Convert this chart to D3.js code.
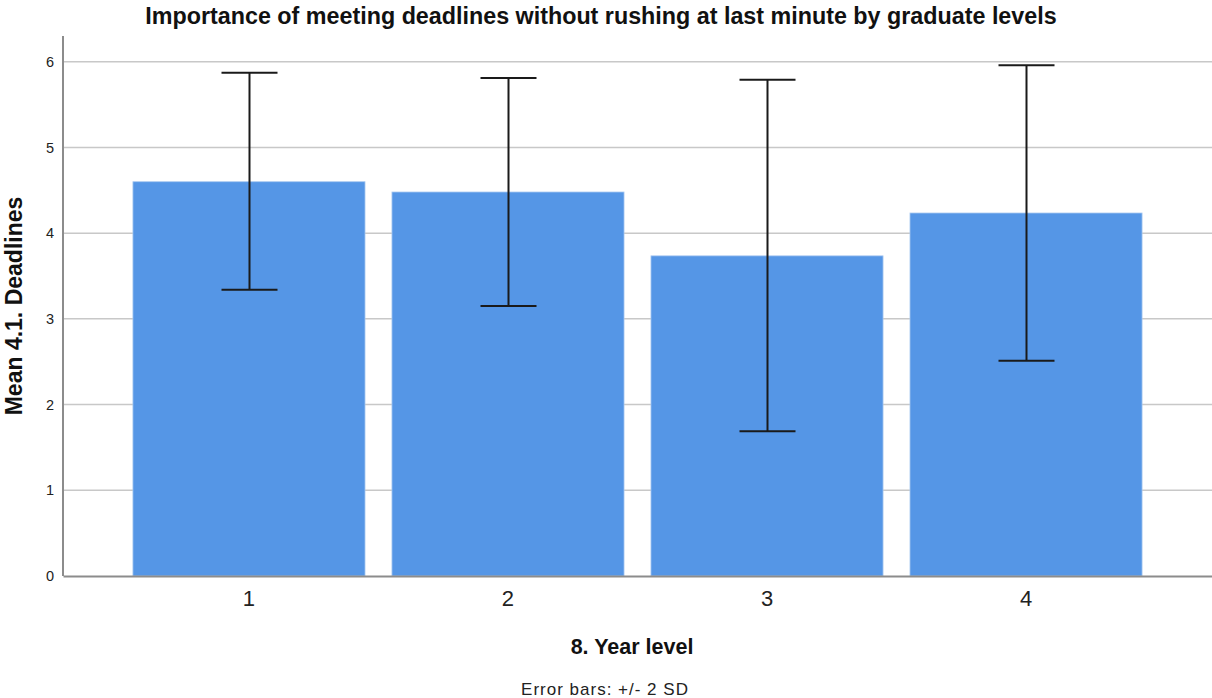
<!DOCTYPE html>
<html><head><meta charset="utf-8">
<script src="https://cdn.jsdelivr.net/npm/d3@7"></script>
<style>body{margin:0;background:#fff;font-family:"Liberation Sans",Arial,sans-serif}</style>
</head><body><svg id="c" width="1212" height="698"></svg>
<script>
const categories = ["1","2","3","4"];
const means = [4.60, 4.48, 3.735, 4.235];
const upper = [5.87, 5.81, 5.79, 5.96];
const lower = [3.34, 3.15, 1.69, 2.51];
const yTicks = [0,1,2,3,4,5,6];

const svg = d3.select("#c");
const pLeft = 63, pRight = 1212, pTop = 36, pBottom = 576;
const x = d3.scaleBand().domain(categories).range([pLeft, pRight]).paddingInner(0.104).paddingOuter(0.27);
const y = d3.scaleLinear().domain([0, 6.3]).range([pBottom, pTop]);

// gridlines
svg.append("g").selectAll("line").data(yTicks.filter(d=>d>0)).join("line")
  .attr("x1", pLeft).attr("x2", pRight).attr("y1", d=>y(d)).attr("y2", d=>y(d))
  .attr("stroke", "#c8c8c8").attr("stroke-width", 1.5);

// bars
svg.append("g").selectAll("rect").data(categories).join("rect")
  .attr("x", d=>x(d)).attr("width", x.bandwidth())
  .attr("y", (d,i)=>y(means[i])).attr("height", (d,i)=>pBottom - y(means[i]))
  .attr("fill", "#5596e6").attr("stroke", "#a9c9f0").attr("stroke-width", 0.8);

// error bars
const eg = svg.append("g").attr("stroke", "#1a1a1a").attr("stroke-width", 2);
categories.forEach((c,i)=>{
  const cx = Math.round(x(c) + x.bandwidth()/2) + 0.5;
  eg.append("line").attr("x1", cx).attr("x2", cx).attr("y1", y(upper[i])).attr("y2", y(lower[i]));
  [upper[i], lower[i]].forEach(v=>{
    eg.append("line").attr("x1", cx-28).attr("x2", cx+28).attr("y1", y(v)).attr("y2", y(v));
  });
});

// axes
const yAxis = svg.append("g").attr("transform", `translate(${pLeft},0)`)
  .call(d3.axisLeft(y).tickValues(yTicks).tickFormat(d3.format("d")).tickSize(0).tickPadding(9));
yAxis.select(".domain").attr("stroke", "#8c8c8c").attr("stroke-width", 2).attr("d", `M0,${pTop}V${pBottom}`);
yAxis.selectAll(".tick text").attr("font-size", 14.5).attr("fill", "#222").attr("font-family", '"Liberation Sans",Arial,sans-serif');

const xAxis = svg.append("g").attr("transform", `translate(0,${pBottom})`)
  .call(d3.axisBottom(x).tickSize(0).tickPadding(14));
xAxis.select(".domain").attr("stroke", "#8c8c8c").attr("stroke-width", 2);
xAxis.selectAll(".tick text").attr("font-size", 22).attr("fill", "#222").attr("font-family", '"Liberation Sans",Arial,sans-serif');

// titles
svg.append("text").attr("x", 601).attr("y", 24).attr("text-anchor", "middle")
  .attr("font-size", 23.3).attr("font-weight", "bold").attr("fill", "#111")
  .text("Importance of meeting deadlines without rushing at last minute by graduate levels");
svg.append("text").attr("x", 632).attr("y", 654).attr("text-anchor", "middle")
  .attr("font-size", 21.5).attr("font-weight", "bold").attr("fill", "#111").text("8. Year level");
svg.append("text").attr("transform", "translate(22,306) rotate(-90)").attr("text-anchor", "middle")
  .attr("font-size", 23).attr("font-weight", "bold").attr("fill", "#111").text("Mean 4.1. Deadlines");
svg.append("text").attr("x", 605).attr("y", 695).attr("text-anchor", "middle")
  .attr("font-size", 17).attr("letter-spacing", 1).attr("fill", "#222").text("Error bars: +/- 2 SD");
</script></body></html>
